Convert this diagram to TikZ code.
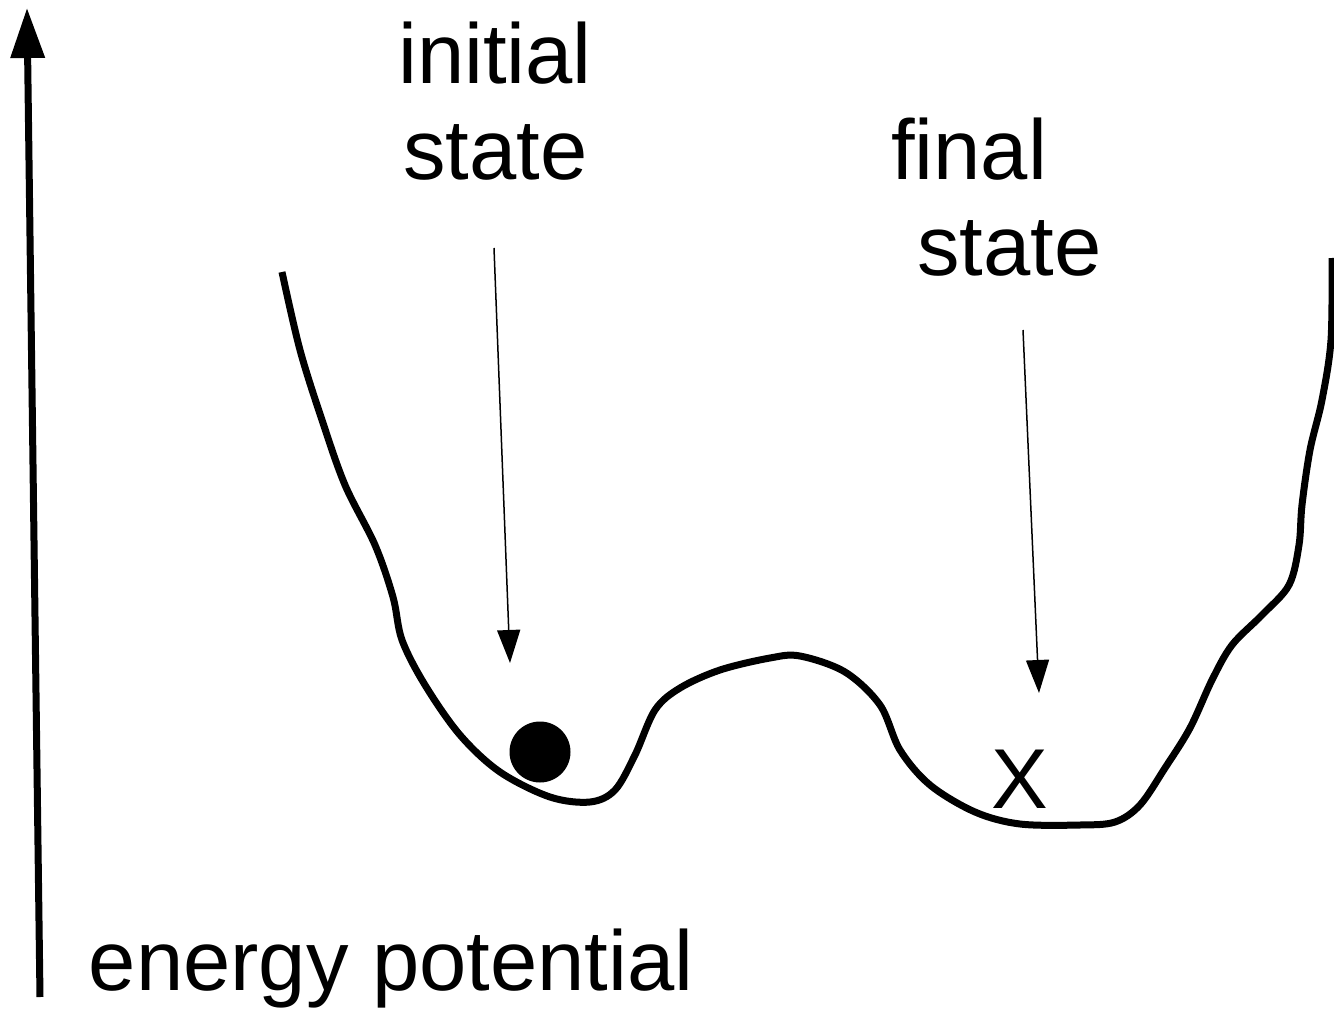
\documentclass[tikz,border=0pt]{standalone}
\usepackage{fontspec}
\setmainfont{Liberation Sans}
\usetikzlibrary{arrows.meta}
\begin{document}
\begin{tikzpicture}[x=1pt,y=-1pt,
  lbl/.style={inner sep=0pt,anchor=base west,font=\fontsize{85}{97}\selectfont},
  curve/.style={line width=7pt,line join=round},
  pointer/.style={line width=1.5pt,-{Triangle[width=23pt,length=33pt]}},
  axis/.style={line width=7pt,-{Triangle[width=33pt,length=50pt]}}]
\useasboundingbox (0,0) rectangle (1334,1019);
% axis
\coordinate (axb) at (40,997);
\coordinate (axt) at (27,8);
\draw[axis] (axb) -- (axt);
\node[lbl] (ep) at (88.6,990) {energy potential};
% labels
\node[lbl] (ini1) at (398,84) {initial};
\node[lbl] (ini2) at (403,180) {state};
\node[lbl] (fin1) at (891,180) {final};
\node[lbl] (fin2) at (917,276) {state};
% energy curve
\draw[curve] plot[smooth,tension=0.55] coordinates {
 (282,272) (300,350) (322,420) (345,485) (375,545) (393,597) (402,640)
 (425,685) (460,735) (500,772) (550,797) (590,802) (615,790) (635,755)
 (655,710) (680,688) (720,670) (770,658) (800,656) (845,672) (880,705)
 (900,750) (930,785) (975,812) (1020,824) (1080,825) (1115,822) (1140,805)
 (1165,768) (1190,728) (1212,680) (1232,645) (1262,615) (1289,585)
 (1299,545) (1302,505) (1310,450) (1322,400) (1331,340) (1332,258)};
% ball and X
\node[circle,fill=black,minimum size=61pt,inner sep=0pt] (ball) at (540,752) {};
\node[inner sep=0pt,anchor=base,font=\fontsize{85}{97}\selectfont] (xmark) at (1020,808) {X};
% pointers
\coordinate (p1s) at (494,248);
\coordinate (p1e) at (510,663);
\coordinate (p2s) at (1023,330);
\coordinate (p2e) at (1039,693);
\draw[pointer] (p1s) -- (p1e);
\draw[pointer] (p2s) -- (p2e);
\end{tikzpicture}
\end{document}
